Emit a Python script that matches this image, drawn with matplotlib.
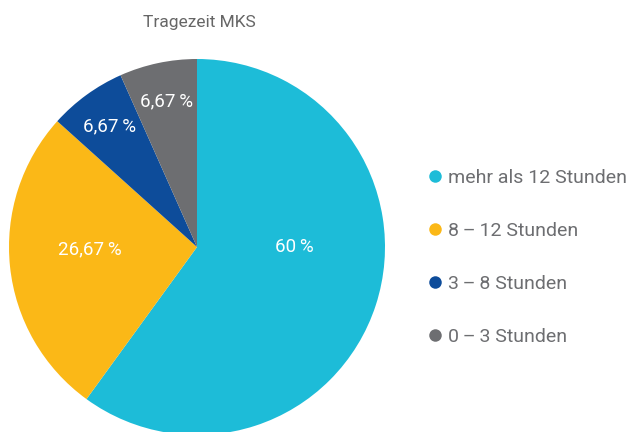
import numpy as np
import matplotlib.pyplot as plt
from matplotlib.lines import Line2D

plt.rcParams['font.family'] = ['Roboto', 'DejaVu Sans']

# Daten
kategorien = ["mehr als 12 Stunden", "8\u202f\u2013\u202f12 Stunden", "3\u202f\u2013\u202f8 Stunden", "0\u202f\u2013\u202f3 Stunden"]
anzahl = [9, 4, 1, 1]
farben = ["#1DBCD8", "#FBB817", "#0D4C9A", "#6D6E71"]
titel = "Tragezeit MKS"

# Label-Position je Segment: (Abstand, Winkel in Grad), None = Mitte des Segments
label_pos = [(0.52, 0), (0.57, 181), (0.79, None), (0.79, None)]

W, H = 640, 432
fig = plt.figure(figsize=(6.4, 4.32), dpi=100)
cx, cy, r = 197, 247, 188
ax = fig.add_axes([(cx - r) / W, (H - cy - r) / H, 2 * r / W, 2 * r / H])

wedges, _ = ax.pie(anzahl, colors=farben, startangle=90, counterclock=False,
                   radius=1, wedgeprops=dict(linewidth=0))
ax.set_xlim(-1, 1)
ax.set_ylim(-1, 1)
ax.set_aspect('equal')
ax.axis('off')

summe = sum(anzahl)
for w, n, (dist, ang) in zip(wedges, anzahl, label_pos):
    p = n / summe * 100
    txt = f"{p:.2f}".rstrip('0').rstrip('.').replace('.', ',') + "\u202f%"
    if ang is None:
        ang = (w.theta1 + w.theta2) / 2
    a = np.deg2rad(ang)
    ax.text(dist * np.cos(a), dist * np.sin(a), txt, color="white",
            fontsize=13.5, ha="center", va="center")

fig.text(199 / W, 1 - 22 / H, titel, ha="center", va="center",
         fontsize=12.5, color="#666666")

handles = [Line2D([], [], marker='o', linestyle='none', markersize=9,
                  markerfacecolor=c, markeredgewidth=0) for c in farben]
fig.legend(handles, kategorien, loc="upper left", bbox_to_anchor=(416 / W, 1 - 161 / H),
           frameon=False, fontsize=14, labelcolor="#6D6E71", handletextpad=0.05,
           labelspacing=1.8, handlelength=1.2, borderaxespad=0)

fig.savefig("out.png", dpi=100)
